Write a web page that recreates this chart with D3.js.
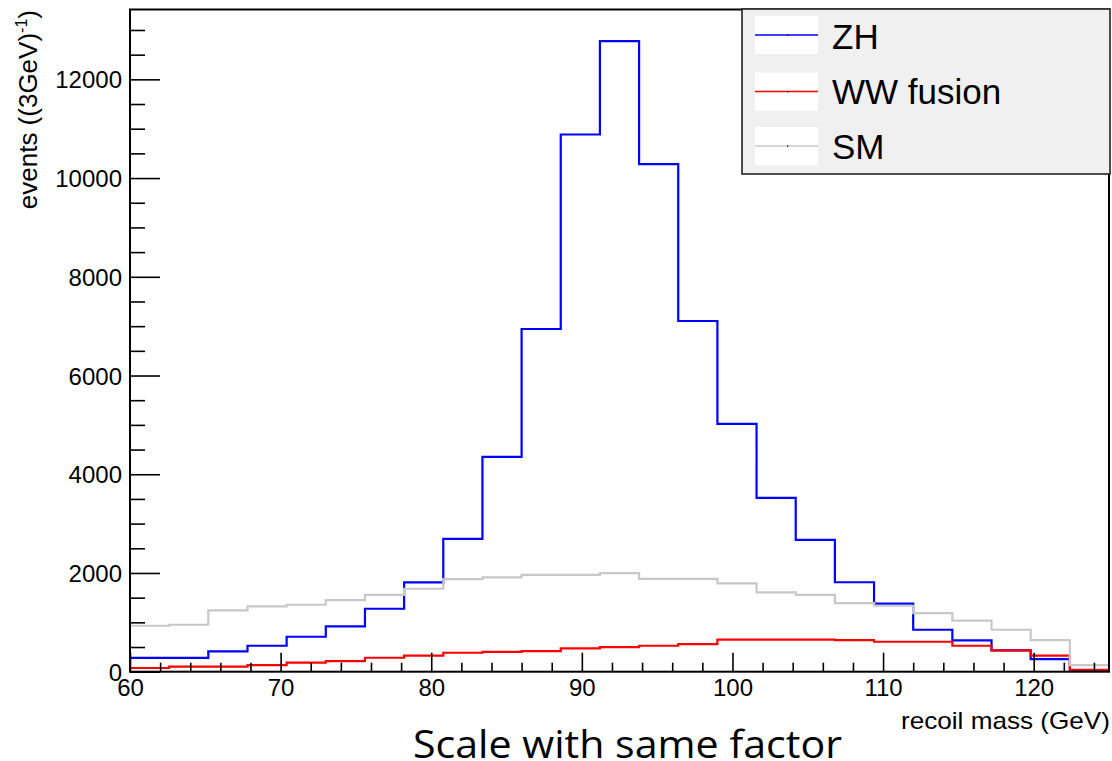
<!DOCTYPE html>
<html>
<head>
<meta charset="utf-8">
<script src="https://cdn.jsdelivr.net/npm/d3@7"></script>
<style>
  html, body { margin: 0; padding: 0; background: #ffffff; }
  svg { display: block; }
  text { font-family: "Liberation Sans", Arial, Helvetica, sans-serif; fill: #000; }
</style>
</head>
<body>
<svg id="chart" width="1112" height="761"></svg>
<script>
// ---- data ----
const binEdges = [60, 62.6, 65.2, 67.8, 70.4, 73.0, 75.6, 78.2, 80.8, 83.4, 86.0, 88.6, 91.2,
                  93.8, 96.4, 99.0, 101.6, 104.2, 106.8, 109.4, 112.0, 114.6, 117.2, 119.8, 122.4, 125];
const zhValues = [280, 280, 411, 526, 708, 917, 1275, 1808, 2692, 4352, 6942, 10883, 12776,
                  10282, 7104, 5020, 3522, 2672, 1812, 1380, 850, 636, 432, 256, 25];
const wwValues = [75, 101, 101, 135, 182, 216, 283, 324, 384, 400, 418, 472, 499,
                  526, 560, 648, 650, 650, 640, 607, 607, 526, 432, 324, 40];
const smValues = [931, 951, 1241, 1322, 1356, 1451, 1558, 1680, 1876, 1909, 1963, 1963, 1997,
                  1882, 1882, 1788, 1606, 1558, 1390, 1336, 1188, 1035, 850, 641, 135];
const seriesNames = ["ZH", "WW fusion", "SM"];
const seriesColors = ["#0000ff", "#ff0000", "#c8c8c8"];
const xMajorTicks = [60, 70, 80, 90, 100, 110, 120];
const yMajorTicks = [0, 2000, 4000, 6000, 8000, 10000, 12000];
const xTitle = "recoil mass (GeV)";
const yTitle = "events ((3GeV)";
const caption = "Scale with same factor";

// ---- layout ----
const svg = d3.select("#chart");
const L = 130, R = 1109, T = 9.5, B = 671.7;
const xMin = binEdges[0], xMax = binEdges[binEdges.length - 1];
const yMax = 1.05 * d3.max(zhValues);

const x = d3.scaleLinear().domain([xMin, xMax]).range([L, R]);
const y = d3.scaleLinear().domain([0, yMax]).range([B, T]);

// frame background
svg.append("rect").attr("x", L).attr("y", T).attr("width", R - L).attr("height", B - T)
  .attr("fill", "#ffffff");

// ---- histograms ----
const allSeries = [zhValues, wwValues, smValues];
const line = d3.line().x(d => x(d[0])).y(d => y(d[1])).curve(d3.curveStepAfter);
allSeries.forEach((vals, i) => {
  const pts = vals.map((v, k) => [binEdges[k], v]);
  pts.push([binEdges[binEdges.length - 1], vals[vals.length - 1]]);
  svg.append("path").datum(pts).attr("d", line)
    .attr("fill", "none").attr("stroke", seriesColors[i]).attr("stroke-width", 2.2)
    .attr("stroke-linejoin", "miter");
});

// ---- axes ----
const xMinor = d3.range(xMin, xMax + 0.001, 2).filter(v => !xMajorTicks.includes(v));
const yMinor = d3.range(0, yMax, 500).filter(v => !yMajorTicks.includes(v));

const gx = svg.append("g").attr("transform", `translate(0,${B})`);
gx.call(d3.axisBottom(x).tickValues(xMinor).tickSize(-9).tickFormat(""));
const gxM = svg.append("g").attr("transform", `translate(0,${B})`);
gxM.call(d3.axisBottom(x).tickValues(xMajorTicks).tickSize(-19).tickPadding(26).tickFormat(d3.format("d")));
[gx, gxM].forEach(g => {
  g.select(".domain").remove();
  g.selectAll(".tick line").attr("stroke", "#000").attr("stroke-width", 1.6);
});
gxM.selectAll(".tick text").attr("font-size", 24).attr("font-family", "Liberation Sans, Arial, sans-serif")
  .attr("fill", "#000").attr("dy", "0").attr("y", 24);

const gy = svg.append("g").attr("transform", `translate(${L},0)`);
gy.call(d3.axisLeft(y).tickValues(yMinor).tickSize(-15).tickFormat(""));
const gyM = svg.append("g").attr("transform", `translate(${L},0)`);
gyM.call(d3.axisLeft(y).tickValues(yMajorTicks).tickSize(-30).tickPadding(8).tickFormat(d3.format("d")));
[gy, gyM].forEach(g => {
  g.select(".domain").remove();
  g.selectAll(".tick line").attr("stroke", "#000").attr("stroke-width", 1.6);
});
gyM.selectAll(".tick text").attr("font-size", 24).attr("font-family", "Liberation Sans, Arial, sans-serif")
  .attr("fill", "#000").attr("x", -8).attr("dy", "0.36em");

// frame border
svg.append("rect").attr("x", L).attr("y", T).attr("width", R - L).attr("height", B - T)
  .attr("fill", "none").attr("stroke", "#000").attr("stroke-width", 2);

// axis titles
svg.append("text").attr("x", 1110).attr("y", 729).attr("text-anchor", "end")
  .attr("font-size", 24).attr("textLength", 209).attr("lengthAdjust", "spacingAndGlyphs")
  .text(xTitle);

const yt = svg.append("text").attr("transform", `translate(37,10) rotate(-90)`)
  .attr("text-anchor", "end").attr("font-size", 26);
yt.append("tspan").text(yTitle);
yt.append("tspan").attr("font-size", 16).attr("dy", -10).text("-1");
yt.append("tspan").attr("dy", 10).text(")");

// ---- legend ----
const lg = svg.append("g");
lg.append("rect").attr("x", 742).attr("y", 9).attr("width", 368).attr("height", 165)
  .attr("fill", "#f0f0f0").attr("stroke", "#222").attr("stroke-width", 1.6);
const rowY = [35, 91.5, 146];
const rowBase = [48.5, 103.5, 158.5];
seriesNames.forEach((name, i) => {
  lg.append("rect").attr("x", 755).attr("y", rowY[i] - 19).attr("width", 63).attr("height", 38)
    .attr("fill", "#ffffff");
  lg.append("line").attr("x1", 755).attr("x2", 818).attr("y1", rowY[i]).attr("y2", rowY[i])
    .attr("stroke", seriesColors[i]).attr("stroke-width", 1.5);
  lg.append("rect").attr("x", 787).attr("y", rowY[i] - 0.5).attr("width", 1.2).attr("height", 1.2)
    .attr("fill", "#000");
  lg.append("text").attr("x", 832).attr("y", rowBase[i]).attr("font-size", 35).text(name);
});

// caption
svg.append("text").attr("x", 627.5).attr("y", 758).attr("text-anchor", "middle")
  .attr("font-family", "Open Sans, Noto Sans, sans-serif").attr("font-size", 39)
  .attr("textLength", 429).attr("lengthAdjust", "spacingAndGlyphs")
  .style("font-family", "'Open Sans', 'Noto Sans', sans-serif")
  .text(caption);
</script>
</body>
</html>
